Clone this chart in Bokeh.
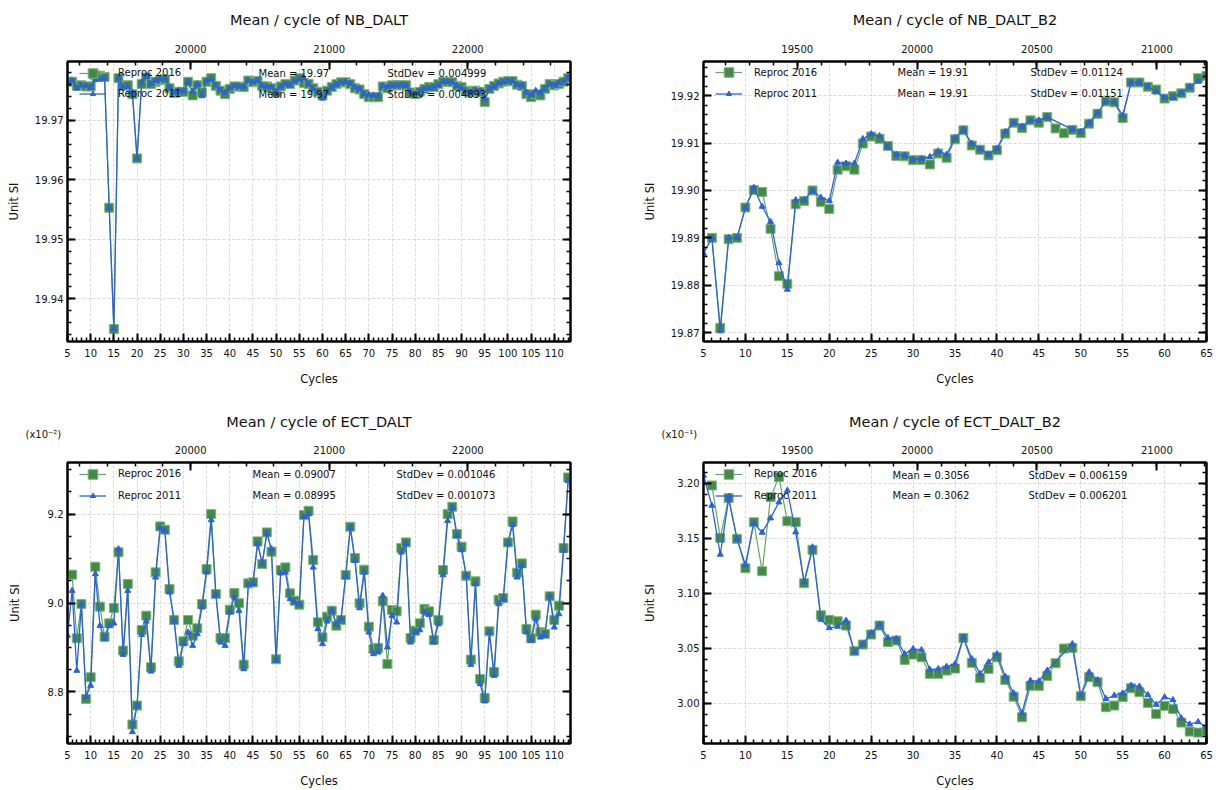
from bokeh.plotting import figure
from bokeh.models import (Range1d, LinearAxis, SingleIntervalTicker, Legend,
                          LegendItem, Label, PrintfTickFormatter, Title)
from bokeh.layouts import column, row
from bokeh.embed import file_html
from bokeh.resources import INLINE

FONT = "DejaVu Sans"
GREEN = "#418b45"
GREEN_EDGE = "#7fb581"
GREEN_LINE = "#62a565"
BLUE = "#2c62dc"

# ---------------- data ----------------
# NB_DALT (top-left)
nb_cyc_g = list(range(5, 114))
nb_val_g = [19.9765, 19.9765, 19.9758, 19.9759, 19.9757, 19.9757, 19.9776, 19.9775, 19.9773, 19.9553,
            19.9349, 19.9771, 19.9758, 19.9759, 19.9744, 19.9636, 19.9761, 19.9772, 19.9761, 19.9765,
            19.9768, 19.9769, 19.9754, 19.9746, 19.9748, 19.9748, 19.9765, 19.9742, 19.9759, 19.9747,
            19.9765, 19.9771, 19.9758, 19.9750, 19.9744, 19.9753, 19.9757, 19.9757, 19.9756, 19.9767,
            19.9764, 19.9766, 19.9758, 19.9757, 19.9754, 19.9747, 19.9757, 19.9761, 19.9761, 19.9767,
            19.9771, 19.9763, 19.9761, 19.9754, 19.9748, 19.9742, 19.9750, 19.9756, 19.9761, 19.9764,
            19.9764, 19.9761, 19.9754, 19.9752, 19.9744, 19.9739, 19.9739, 19.9739, 19.9757, 19.9754,
            19.9759, 19.9759, 19.9759, 19.9759, 19.9747, 19.9744, 19.9748, 19.9753, 19.9756, 19.9756,
            19.9761, 19.9765, 19.9765, 19.9764, 19.9758, 19.9756, 19.9750, 19.9747, 19.9750, 19.9748,
            19.9731, 19.9753, 19.9758, 19.9762, 19.9765, 19.9766, 19.9766, 19.9760, 19.9758, 19.9744,
            19.9739, 19.9744, 19.9742, 19.9753, 19.9761, 19.9759, 19.9761, 19.9765, 19.9771]
nb_cyc_b = list(range(5, 114))
nb_val_b = [19.9765, 19.9767, 19.9754, 19.9759, 19.9758, 19.9755, 19.9768, 19.9769, 19.9771, 19.9553,
            19.9349, 19.9772, 19.9756, 19.9757, 19.9747, 19.9636, 19.9764, 19.9774, 19.9761, 19.9767,
            19.9769, 19.9771, 19.9756, 19.9747, 19.9750, 19.9750, 19.9765, 19.9748, 19.9761, 19.9741,
            19.9767, 19.9769, 19.9759, 19.9751, 19.9747, 19.9754, 19.9758, 19.9757, 19.9757, 19.9767,
            19.9764, 19.9767, 19.9758, 19.9757, 19.9756, 19.9748, 19.9757, 19.9761, 19.9760, 19.9766,
            19.9769, 19.9771, 19.9761, 19.9753, 19.9748, 19.9737, 19.9750, 19.9756, 19.9760, 19.9764,
            19.9765, 19.9762, 19.9756, 19.9753, 19.9744, 19.9743, 19.9742, 19.9741, 19.9758, 19.9756,
            19.9758, 19.9759, 19.9759, 19.9758, 19.9748, 19.9744, 19.9750, 19.9753, 19.9754, 19.9756,
            19.9759, 19.9765, 19.9765, 19.9764, 19.9758, 19.9754, 19.9750, 19.9747, 19.9751, 19.9749,
            19.9736, 19.9753, 19.9757, 19.9762, 19.9764, 19.9766, 19.9766, 19.9760, 19.9759, 19.9747,
            19.9743, 19.9750, 19.9746, 19.9754, 19.9761, 19.9759, 19.9763, 19.9766, 19.9772]

# NB_DALT_B2 (top-right)
nb2_cyc_g = list(range(6, 66))
nb2_val_g = [19.8900, 19.8710, 19.8897, 19.8900, 19.8964, 19.9001, 19.8997, 19.8919, 19.8819, 19.8803,
             19.8971, 19.8978, 19.9000, 19.8976, 19.8961, 19.9044, 19.9051, 19.9044, 19.9099, 19.9114,
             19.9109, 19.9094, 19.9073, 19.9072, 19.9064, 19.9064, 19.9055, 19.9078, 19.9069, 19.9108,
             19.9127, 19.9095, 19.9086, 19.9074, 19.9085, 19.9120, 19.9143, 19.9132, 19.9148, 19.9143,
             19.9155, 19.9131, 19.9121, 19.9128, 19.9121, 19.9141, 19.9162, 19.9188, 19.9186, 19.9153,
             19.9228, 19.9228, 19.9219, 19.9213, 19.9194, 19.9199, 19.9205, 19.9217, 19.9237, 19.9242]
nb2_cyc_b = [c for c in range(5, 66) if c not in (47, 48)]
nb2_val_b = [19.8867, 19.8900, 19.8703, 19.8900, 19.8900, 19.8964, 19.9006, 19.8966, 19.8934, 19.8847,
             19.8791, 19.8980, 19.8980, 19.9000, 19.8985, 19.8978, 19.9059, 19.9057, 19.9057, 19.9109,
             19.9119, 19.9115, 19.9092, 19.9076, 19.9074, 19.9065, 19.9067, 19.9071, 19.9083, 19.9076,
             19.9111, 19.9128, 19.9099, 19.9088, 19.9076, 19.9088, 19.9124, 19.9143, 19.9135, 19.9148,
             19.9148, 19.9155, 19.9129, 19.9124, 19.9143, 19.9164, 19.9188, 19.9187, 19.9158, 19.9228,
             19.9228, 19.9220, 19.9208, 19.9196, 19.9196, 19.9206, 19.9219, 19.9230, 19.9244]

# ECT_DALT (bottom-left), in units of 1e-2
ect_cyc_g = list(range(6, 114))
ect_val_g = [9.0637, 8.9206, 8.9978, 8.7843, 8.8330, 9.0816, 8.9918, 8.9243, 8.9543, 8.9888,
             9.1139, 8.8929, 9.0427, 8.7266, 8.7693, 8.9393, 8.9715, 8.8554, 9.0689, 9.1723,
             9.1648, 9.0315, 8.9618, 8.8689, 8.9139, 8.9618, 8.9266, 8.9431, 8.9978, 9.0764,
             9.2000, 9.0202, 8.9213, 8.9213, 8.9850, 9.0225, 8.9993, 8.8614, 9.0442, 9.0464,
             9.1386, 9.0876, 9.1588, 9.1154, 8.8734, 9.0742, 9.0801, 9.0217, 9.0052, 8.9963,
             9.1978, 9.2075, 9.0966, 8.9566, 8.9228, 8.9693, 8.9828, 8.9491, 8.9618, 9.0629,
             9.1715, 9.1011, 8.9993, 9.0749, 8.9468, 8.8966, 8.8989, 9.0037, 8.8629, 8.9843,
             8.9813, 9.1236, 9.1363, 8.9213, 8.9378, 8.9543, 8.9865, 8.9813, 8.9169, 8.9618,
             9.0742, 9.2000, 9.2165, 9.1551, 9.1266, 9.0614, 8.8727, 9.0487, 8.8292, 8.7865,
             8.9363, 8.8449, 9.0075, 9.0112, 9.1363, 9.1835, 9.0682, 9.0891, 8.9416, 8.9206,
             8.9738, 8.9341, 8.9303, 9.0150, 8.9618, 8.9940, 9.1236, 9.2824]
ect_cyc_b = list(range(5, 114))
ect_val_b = [8.9270, 9.0277, 8.8480, 8.9963, 8.7895, 8.8142, 9.0652, 8.9490, 8.9190, 8.9490,
             8.9543, 9.1213, 8.8839, 9.0277, 8.7101, 8.7700, 8.9288, 8.9588, 8.8464, 9.0577,
             9.1685, 9.1625, 9.0240, 8.9603, 8.8592, 8.9079, 8.9341, 8.9041, 8.9303, 8.9903,
             9.0689, 9.1865, 9.0187, 8.9116, 8.9041, 8.9790, 9.0127, 8.9828, 8.8517, 9.0412,
             9.0427, 9.1326, 9.0891, 9.1566, 9.1213, 8.8704, 9.0667, 9.0689, 9.0090, 9.0015,
             8.9978, 9.1940, 9.2000, 9.0801, 8.9416, 8.9079, 8.9588, 8.9843, 8.9528, 8.9640,
             9.0592, 9.1700, 9.0951, 8.9888, 9.0689, 8.9341, 8.8854, 8.8891, 9.0165, 8.9004,
             8.9715, 8.9566, 9.1139, 9.1341, 8.9116, 8.9341, 8.9393, 8.9790, 8.9738, 8.9116,
             8.9528, 9.0629, 9.1850, 9.2150, 9.1513, 9.1191, 9.0614, 8.8614, 9.0427, 8.8180,
             8.7790, 8.9341, 8.8367, 8.9978, 9.0090, 9.1341, 9.1760, 9.0577, 9.0839, 8.9341,
             8.9154, 8.9640, 8.9228, 8.9288, 9.0165, 8.9453, 8.9753, 9.1180, 9.2749]

# ECT_DALT_B2 (bottom-right), in units of 1e-1
ect2_cyc_g = list(range(6, 66))
ect2_val_g = [3.1979, 3.1503, 3.1864, 3.1494, 3.1227, 3.1645, 3.1200, 3.1873, 3.2055, 3.1655,
              3.1645, 3.1091, 3.1394, 3.0800, 3.0758, 3.0745, 3.0706, 3.0473, 3.0533, 3.0624,
              3.0706, 3.0555, 3.0570, 3.0394, 3.0442, 3.0418, 3.0267, 3.0267, 3.0297, 3.0315,
              3.0594, 3.0367, 3.0230, 3.0312, 3.0418, 3.0212, 3.0060, 2.9873, 3.0158, 3.0158,
              3.0248, 3.0364, 3.0497, 3.0503, 3.0064, 3.0236, 3.0191, 2.9964, 2.9979, 3.0055,
              3.0136, 3.0100, 3.0003, 2.9903, 2.9976, 2.9948, 2.9824, 2.9742, 2.9733, 2.9748]
ect2_cyc_b = [c for c in range(5, 66) if c not in (47, 48)]
ect2_val_b = [3.2070, 3.1797, 3.1352, 3.1858, 3.1494, 3.1258, 3.1636, 3.1552, 3.1682, 3.1827,
              3.1933, 3.1555, 3.1100, 3.1418, 3.0761, 3.0685, 3.0697, 3.0752, 3.0464, 3.0539,
              3.0639, 3.0715, 3.0594, 3.0585, 3.0448, 3.0494, 3.0485, 3.0306, 3.0312, 3.0333,
              3.0358, 3.0600, 3.0403, 3.0267, 3.0373, 3.0448, 3.0242, 3.0091, 2.9912, 3.0206,
              3.0200, 3.0297, 3.0539, 3.0070, 3.0282, 3.0212, 3.0040, 3.0070, 3.0091, 3.0161,
              3.0152, 3.0076, 2.9988, 3.0055, 3.0030, 2.9864, 2.9809, 2.9830, 2.9785]

series_names = ["Reproc 2016", "Reproc 2011"]
titles = ["Mean / cycle of NB_DALT", "Mean / cycle of NB_DALT_B2",
          "Mean / cycle of ECT_DALT", "Mean / cycle of ECT_DALT_B2"]
mean_texts = [["Mean = 19.97", "Mean = 19.97"], ["Mean = 19.91", "Mean = 19.91"],
              ["Mean = 0.09007", "Mean = 0.08995"], ["Mean = 0.3056", "Mean = 0.3062"]]
std_texts = [["StdDev = 0.004999", "StdDev = 0.004893"], ["StdDev = 0.01124", "StdDev = 0.01151"],
             ["StdDev = 0.001046", "StdDev = 0.001073"], ["StdDev = 0.006159", "StdDev = 0.006201"]]
scale_texts = [None, None, "(x10\u207b\u00b2)", "(x10\u207b\u00b9)"]


def set_standoff(t, v):
    try:
        t.standoff = v
    except Exception:
        try:
            t.standoff = max(v, 0)
        except Exception:
            pass


def style_axis(ax, label_size="10px", standoff=4):
    ax.axis_line_width = 2
    ax.axis_line_color = "black"
    ax.major_tick_in = 8
    ax.major_tick_out = 0
    ax.minor_tick_in = 4
    ax.minor_tick_out = 0
    ax.major_tick_line_width = 2
    ax.minor_tick_line_width = 1.5
    ax.major_tick_line_color = "black"
    ax.minor_tick_line_color = "black"
    ax.major_label_text_font = FONT
    ax.major_label_text_font_size = label_size
    ax.major_label_text_color = "#111111"
    ax.major_label_standoff = standoff
    ax.axis_label_text_font = FONT
    ax.axis_label_text_font_size = "11.5px"
    ax.axis_label_text_font_style = "normal"
    ax.axis_label_text_color = "#111111"


def make_panel(idx, width, height, borders, xr, yr, topr, top_int, top_minor,
               y_int, y_minor, y_fmt, cg, vg, cb, vb, ylab_standoff, xlab_standoff,
               leg_rows, stat_x, stat_rows, title_standoff, scale_standoff, top_standoff,
               title_valign):
    bl, br, bt, bb = borders
    p = figure(width=width, height=height, x_range=Range1d(*xr), y_range=Range1d(*yr),
               output_backend="svg", toolbar_location=None,
               min_border_left=bl, min_border_right=br, min_border_top=bt, min_border_bottom=bb,
               title=titles[idx])
    p.title.text_font = FONT
    p.title.text_font_size = "14.5px"
    p.title.text_font_style = "normal"
    p.title.text_color = "#111111"
    p.title.align = "center"
    p.title.vertical_align = title_valign
    set_standoff(p.title, title_standoff)
    p.background_fill_color = "white"
    p.border_fill_color = "white"
    p.outline_line_color = "black"
    p.outline_line_width = 2

    xt = SingleIntervalTicker(interval=5, num_minor_ticks=5)
    yt = SingleIntervalTicker(interval=y_int, num_minor_ticks=y_minor)
    xa = p.below[0]
    xa.ticker = xt
    xa.formatter = PrintfTickFormatter(format="%d")
    xa.axis_label = "Cycles"
    style_axis(xa, standoff=7)
    xa.axis_label_standoff = xlab_standoff
    ya = p.left[0]
    ya.ticker = yt
    ya.formatter = PrintfTickFormatter(format=y_fmt)
    ya.axis_label = "Unit SI"
    style_axis(ya, standoff=4)
    ya.axis_label_standoff = ylab_standoff

    p.extra_x_ranges = {"top": Range1d(*topr)}
    ta = LinearAxis(x_range_name="top",
                    ticker=SingleIntervalTicker(interval=top_int, num_minor_ticks=top_minor),
                    formatter=PrintfTickFormatter(format="%d"))
    style_axis(ta, standoff=top_standoff)
    p.add_layout(ta, "above")

    if scale_texts[idx]:
        # scale-factor note between the top axis and the title
        st = Title(text=scale_texts[idx], align="left", offset=-42, text_font=FONT,
                   text_font_size="10px", text_font_style="normal", text_color="#111111")
        set_standoff(st, scale_standoff)
        p.add_layout(st, "above")

    ra = LinearAxis(ticker=SingleIntervalTicker(interval=y_int, num_minor_ticks=y_minor))
    style_axis(ra, standoff=0)
    ra.major_label_text_color = None
    p.add_layout(ra, "right")

    for g in (p.xgrid[0], p.ygrid[0]):
        g.grid_line_color = "#cfcfcf"
        g.grid_line_dash = "3 2"
        g.grid_line_width = 0.8
    p.xgrid[0].ticker = xt
    p.ygrid[0].ticker = yt

    gl = p.line(cg, vg, line_color=GREEN_LINE, line_width=1.2)
    gs = p.scatter(cg, vg, marker="square", size=9, fill_color=GREEN, line_color=GREEN_EDGE,
                   line_width=1)
    bl_ = p.line(cb, vb, line_color=BLUE, line_width=1.3)
    bs = p.scatter(cb, vb, marker="triangle", size=6, fill_color=BLUE, line_color=BLUE)

    fh = height - bt - bb
    common = dict(orientation="vertical", background_fill_alpha=0, border_line_alpha=0,
                  padding=0, margin=0, spacing=0, glyph_width=27, label_standoff=12,
                  label_text_font=FONT, label_text_font_size="10px",
                  label_text_color="#111111")
    leg1 = Legend(items=[LegendItem(label=series_names[0], renderers=[gl, gs])],
                  location=(12, fh - leg_rows[0] - 12), glyph_height=24, label_height=24,
                  **common)
    leg2 = Legend(items=[LegendItem(label=series_names[1], renderers=[bl_, bs])],
                  location=(12, fh - leg_rows[1] - 6.5), glyph_height=13, label_height=13,
                  **common)
    p.add_layout(leg1)
    p.add_layout(leg2)

    for k in range(2):
        ytxt = fh - stat_rows[k]
        p.add_layout(Label(x=stat_x[0], y=ytxt, x_units="screen", y_units="screen",
                           text=mean_texts[idx][k], text_font=FONT, text_font_size="10px",
                           text_baseline="middle", text_color="#111111"))
        p.add_layout(Label(x=stat_x[1], y=ytxt, x_units="screen", y_units="screen",
                           text=std_texts[idx][k], text_font=FONT, text_font_size="10px",
                           text_baseline="middle", text_color="#111111"))
    return p


LW, RW = 625, 596
TH, BH = 389, 401

p1 = make_panel(0, LW, TH, (67, 55, 59, 48), (5, 113.5), (19.9328, 19.9799), (19111, 22742),
                1000, 5, 0.01, 5, "%.2f", nb_cyc_g, nb_val_g, nb_cyc_b, nb_val_b,
                11, 12, (13.7, 34.8), (191, 320), (13.5, 34.5), 23, 6, 9, "top")
p2 = make_panel(1, RW, TH, (78, 15, 59, 48), (5, 65), (19.86811, 19.92723), (19109, 21207),
                500, 5, 0.01, 5, "%.2f", nb2_cyc_g, nb2_val_g, nb2_cyc_b, nb2_val_b,
                11, 12, (13.2, 34.2), (194, 327), (12.5, 33.5), 23, 6, 9, "top")
p3 = make_panel(2, LW, BH, (67, 55, 73, 47), (5, 113.5), (8.684, 9.316), (19111, 22742),
                1000, 5, 0.2, 4, "%.1f", ect_cyc_g, ect_val_g, ect_cyc_b, ect_val_b,
                23, 12, (11.5, 33.5), (185, 329), (12.3, 33.2), -13.5, 6, 9, "bottom")
p4 = make_panel(3, RW, BH, (78, 15, 73, 47), (5, 65), (2.9634, 3.2188), (19109, 21207),
                500, 5, 0.05, 5, "%.2f", ect2_cyc_g, ect2_val_g, ect2_cyc_b, ect2_val_b,
                17, 12, (11.5, 33.5), (189, 325), (12.8, 33.2), -13.5, 6, 9, "bottom")

layout = column(row(p1, p2), row(p3, p4))
open("out.html", "w").write(file_html(layout, INLINE))
